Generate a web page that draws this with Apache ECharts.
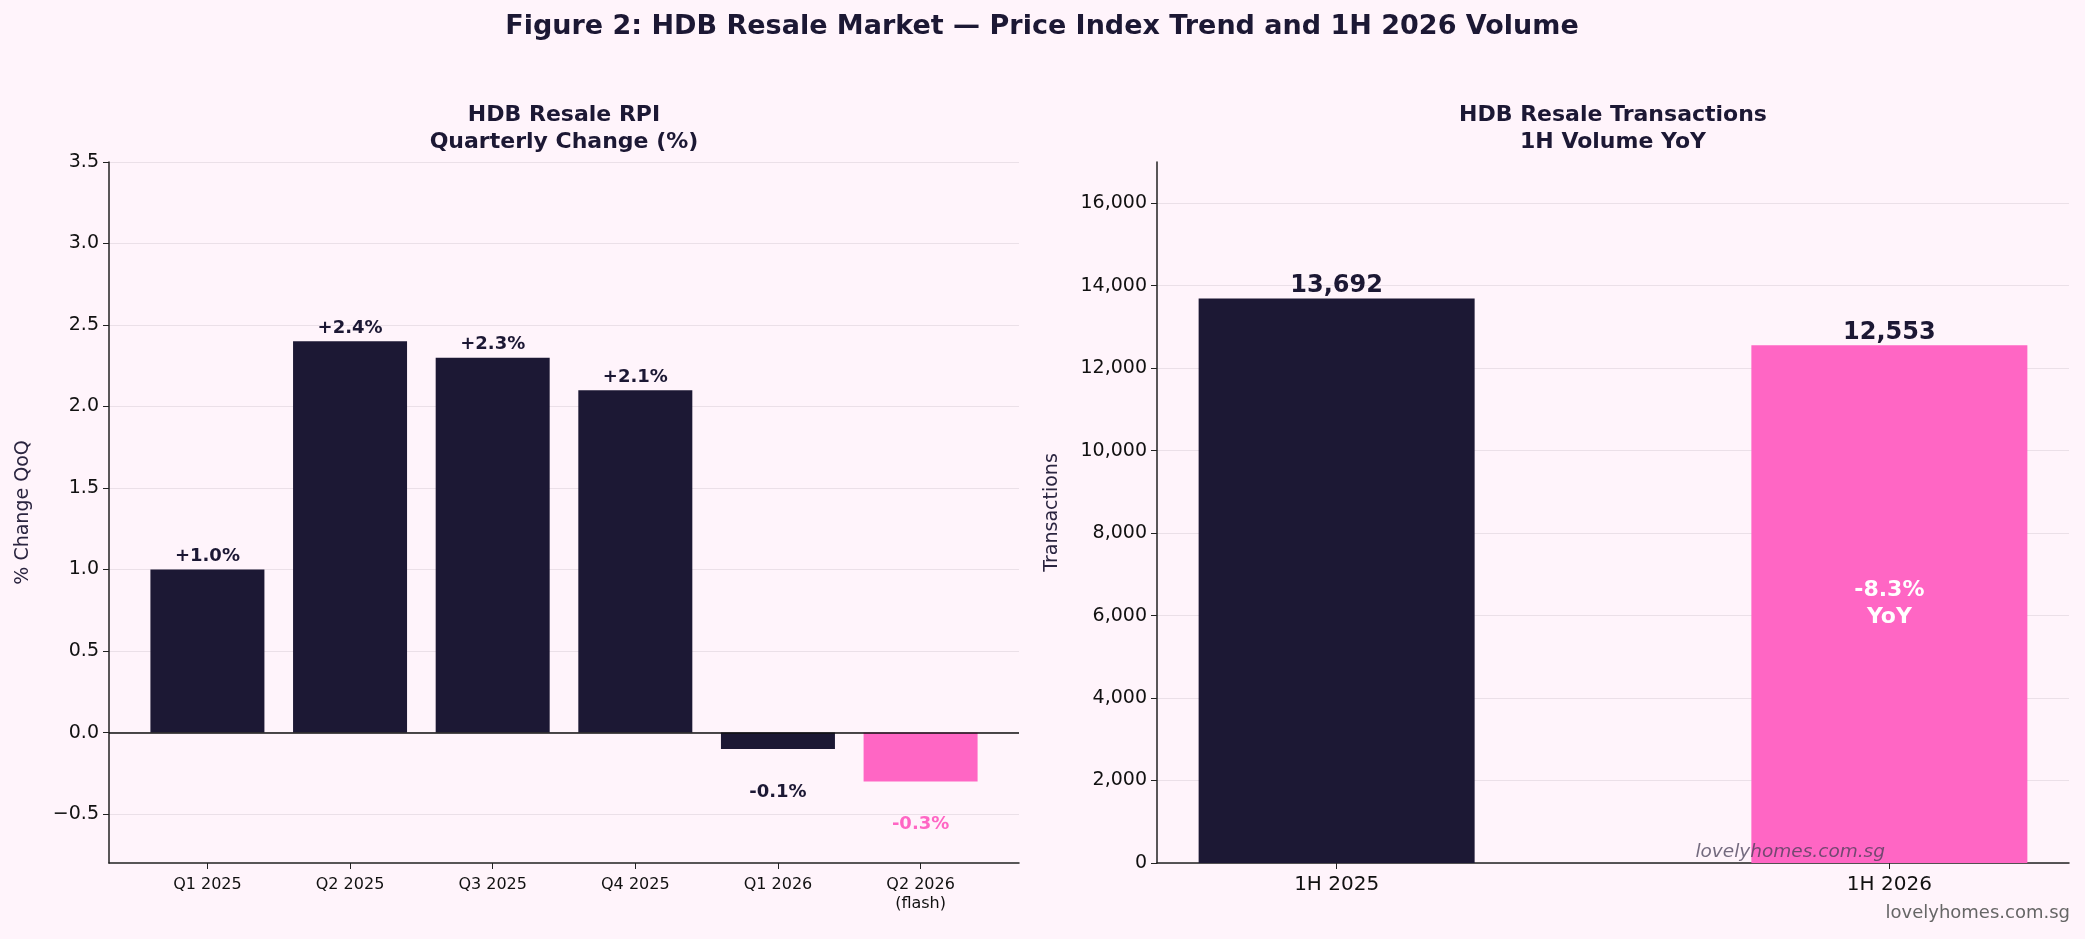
<!DOCTYPE html>
<html>
<head>
<meta charset="utf-8">
<title>HDB Resale Market</title>
<script src="https://cdn.jsdelivr.net/npm/echarts@6/dist/echarts.min.js"></script>
<style>
  html, body { margin: 0; padding: 0; background: #fff4fb; }
  #chart { width: 2085px; height: 939px; }
</style>
</head>
<body>
<div id="chart"></div>
<script>
// quarterly resale price index change (%)
var quarters = ["Q1 2025", "Q2 2025", "Q3 2025", "Q4 2025", "Q1 2026", "Q2 2026\n(flash)"];
var rpiChange = [1.0, 2.4, 2.3, 2.1, -0.1, -0.3];
var rpiTicks = [-0.5, 0, 0.5, 1, 1.5, 2, 2.5, 3, 3.5];

// half-year resale transactions
var halves = ["1H 2025", "1H 2026"];
var volumes = [13692, 12553];
var volTicks = [0, 2000, 4000, 6000, 8000, 10000, 12000, 14000, 16000];

var NAVY = "#1c1834";
var PINK = "#ff66c4";
var FONT = "DejaVu Sans";
var spine = { show: true, onZero: false, lineStyle: { color: "#222", width: 1.5 } };
var grid = { show: true, lineStyle: { color: "#ebe0e8", width: 1 } };

var chart = echarts.init(document.getElementById("chart"));

var yoy = (volumes[1] / volumes[0] - 1) * 100;

var option = {
  backgroundColor: "#fff4fb",
  textStyle: { fontFamily: FONT },
  animation: false,
  grid: [
    { left: 109, right: 1066, top: 162, bottom: 76 },
    { left: 1157, right: 16, top: 162, bottom: 76 }
  ],
  xAxis: [
    {
      gridIndex: 0, type: "value", min: -0.69, max: 5.69,
      axisLine: spine,
      axisTick: { show: true, customValues: [0, 1, 2, 3, 4, 5], length: 6, lineStyle: { color: "#222" } },
      axisLabel: {
        customValues: [0, 1, 2, 3, 4, 5],
        formatter: function (v) { return quarters[Math.round(v)]; },
        fontSize: 16, lineHeight: 19, margin: 12, color: "#111", fontFamily: FONT
      },
      splitLine: { show: false }
    },
    {
      gridIndex: 1, type: "value", min: -0.325, max: 1.325,
      axisLine: spine,
      axisTick: { show: true, customValues: [0, 1], length: 6, lineStyle: { color: "#222" } },
      axisLabel: {
        customValues: [0, 1],
        formatter: function (v) { return halves[Math.round(v)]; },
        fontSize: 20, margin: 12, color: "#111", fontFamily: FONT
      },
      splitLine: { show: false }
    }
  ],
  yAxis: [
    {
      gridIndex: 0, type: "value", min: -0.8, max: 3.5,
      name: "% Change QoQ", nameLocation: "middle", nameGap: 76,
      nameTextStyle: { fontSize: 19, color: "#2b2540", fontFamily: FONT },
      axisLine: spine,
      axisTick: { show: true, customValues: rpiTicks, length: 6, lineStyle: { color: "#222" } },
      axisLabel: {
        customValues: rpiTicks,
        formatter: function (v) { return v.toFixed(1).replace("-", "\u2212"); },
        fontSize: 19, margin: 10, color: "#111", fontFamily: FONT
      },
      splitLine: grid
    },
    {
      gridIndex: 1, type: "value", min: 0, max: 17000,
      name: "Transactions", nameLocation: "middle", nameGap: 95,
      nameTextStyle: { fontSize: 19, color: "#2b2540", fontFamily: FONT },
      axisLine: spine,
      axisTick: { show: true, customValues: volTicks, length: 6, lineStyle: { color: "#222" } },
      axisLabel: {
        customValues: volTicks,
        formatter: function (v) { return v.toLocaleString("en-US"); },
        fontSize: 19, margin: 10, color: "#111", fontFamily: FONT
      },
      splitLine: grid
    }
  ],
  series: [
    {
      name: "RPI change", type: "bar", xAxisIndex: 0, yAxisIndex: 0,
      barWidth: 114,
      data: rpiChange.map(function (v, i) {
        var c = i === rpiChange.length - 1 ? PINK : NAVY;
        return {
          value: [i, v],
          itemStyle: { color: c },
          label: { position: v >= 0 ? "top" : "bottom", distance: v >= 0 ? 4 : 34, color: c }
        };
      }),
      label: {
        show: true, fontSize: 18, fontWeight: "bold", fontFamily: FONT,
        formatter: function (p) {
          var v = p.value[1];
          return (v > 0 ? "+" : "") + v.toFixed(1) + "%";
        }
      },
      markLine: {
        silent: true, symbol: "none", label: { show: false },
        lineStyle: { color: "#111", width: 1.5, type: "solid" },
        data: [{ yAxis: 0 }]
      }
    },
    {
      name: "Transactions", type: "bar", xAxisIndex: 1, yAxisIndex: 1,
      barWidth: 276,
      data: volumes.map(function (v, i) {
        return { value: [i, v], itemStyle: { color: i === 1 ? PINK : NAVY } };
      }),
      label: {
        show: true, position: "top", distance: 1,
        fontSize: 24, fontWeight: "bold", color: NAVY, fontFamily: FONT,
        formatter: function (p) { return p.value[1].toLocaleString("en-US"); }
      }
    },
    {
      name: "YoY", type: "scatter", xAxisIndex: 1, yAxisIndex: 1,
      symbolSize: 0, silent: true, z: 10,
      data: [[1, volumes[1] / 2]],
      itemStyle: { opacity: 1 },
      label: {
        show: true, position: "inside",
        fontSize: 22, fontWeight: "bold", lineHeight: 27, color: "#ffffff", opacity: 1, fontFamily: FONT,
        formatter: function () { return yoy.toFixed(1) + "%\nYoY"; }
      }
    }
  ],
  graphic: [
    {
      type: "text", x: 1042, y: 27, z: 100,
      style: { text: "Figure 2: HDB Resale Market \u2014 Price Index Trend and 1H 2026 Volume",
        align: "center", verticalAlign: "middle", fill: NAVY,
        font: "bold 27px 'DejaVu Sans'" }
    },
    {
      type: "text", x: 564, y: 129, z: 100,
      style: { text: "HDB Resale RPI\nQuarterly Change (%)", align: "center", verticalAlign: "middle",
        fill: NAVY, font: "bold 22px 'DejaVu Sans'", lineHeight: 27 }
    },
    {
      type: "text", x: 1613, y: 129, z: 100,
      style: { text: "HDB Resale Transactions\n1H Volume YoY", align: "center", verticalAlign: "middle",
        fill: NAVY, font: "bold 22px 'DejaVu Sans'", lineHeight: 27 }
    },
    {
      type: "text", x: 1885, y: 852, z: 100,
      style: { text: "lovelyhomes.com.sg", align: "right", verticalAlign: "middle",
        fill: "rgba(70,62,85,0.75)", font: "italic 18.5px 'DejaVu Sans'" }
    },
    {
      type: "text", x: 2070, y: 913, z: 100,
      style: { text: "lovelyhomes.com.sg", align: "right", verticalAlign: "middle",
        fill: "#666", font: "18px 'DejaVu Sans'" }
    }
  ]
};

chart.setOption(option);
</script>
</body>
</html>
